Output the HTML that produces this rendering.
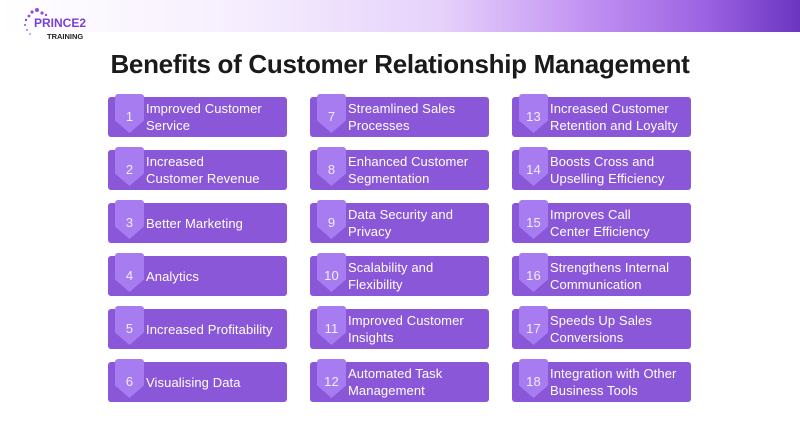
<!DOCTYPE html>
<html><head><style>
*{margin:0;padding:0;box-sizing:border-box}
body{width:800px;height:424px;background:#fff;position:relative;overflow:hidden;font-family:"Liberation Sans",sans-serif}
.band{position:absolute;left:0;top:0;width:800px;height:32px;background:linear-gradient(90deg,#fff 0%,#f6eefe 30%,#e6d2fb 55%,#c596f3 72%,#9d63e3 88%,#6a35c0 100%)}
.logo{position:absolute;left:20px;top:6px;width:75px;height:36px}
.title{position:absolute;left:0;width:800px;top:49px;text-align:center;font-size:26px;font-weight:bold;color:#1a1a1a;letter-spacing:-0.3px}
.card{position:absolute;width:179px;height:40px;background:#8b57d9;border-radius:3px;color:#fff;font-size:13px;line-height:17px;display:flex;align-items:center;padding-left:38px;letter-spacing:0.1px}
.badge{position:absolute;left:7px;top:-3px;width:29px;height:39px;background:#a67cf0;clip-path:polygon(0 0,100% 0,100% 68%,50% 100%,0 68%);border-radius:3px 3px 0 0}
.num{position:absolute;left:7px;top:0;width:29px;height:40px;line-height:40px;text-align:center;font-size:13px;color:#f3ecff}
</style></head><body>
<div class="band"></div>
<svg class="logo" viewBox="0 0 75 36">
<g fill="#8b4fe0"><circle cx="17" cy="4" r="2"/><circle cx="12" cy="6" r="1.6"/><circle cx="22" cy="7" r="1.6"/><circle cx="9" cy="10" r="1.4"/><circle cx="26" cy="9" r="1.2"/><circle cx="6" cy="14" r="1.2"/><circle cx="5" cy="19" r="1"/><circle cx="7" cy="24" r="0.9"/><circle cx="10" cy="28" r="0.8"/></g>
<text x="14" y="21" font-family="Liberation Sans" font-weight="bold" font-size="12" fill="#7a3fd6">PRINCE2</text>
<text x="27" y="33" font-family="Liberation Sans" font-weight="bold" font-size="7.5" fill="#222">TRAINING</text>
</svg>
<div class="title">Benefits of Customer Relationship Management</div>

<div class="card" style="left:108px;top:97px"><div class="badge"></div><div class="num">1</div>Improved Customer<br>Service</div>
<div class="card" style="left:108px;top:150px"><div class="badge"></div><div class="num">2</div>Increased<br>Customer Revenue</div>
<div class="card" style="left:108px;top:203px"><div class="badge"></div><div class="num">3</div>Better Marketing</div>
<div class="card" style="left:108px;top:256px"><div class="badge"></div><div class="num">4</div>Analytics</div>
<div class="card" style="left:108px;top:309px"><div class="badge"></div><div class="num">5</div>Increased Profitability</div>
<div class="card" style="left:108px;top:362px"><div class="badge"></div><div class="num">6</div>Visualising Data</div>

<div class="card" style="left:310px;top:97px"><div class="badge"></div><div class="num">7</div>Streamlined Sales<br>Processes</div>
<div class="card" style="left:310px;top:150px"><div class="badge"></div><div class="num">8</div>Enhanced Customer<br>Segmentation</div>
<div class="card" style="left:310px;top:203px"><div class="badge"></div><div class="num">9</div>Data Security and<br>Privacy</div>
<div class="card" style="left:310px;top:256px"><div class="badge"></div><div class="num">10</div>Scalability and<br>Flexibility</div>
<div class="card" style="left:310px;top:309px"><div class="badge"></div><div class="num">11</div>Improved Customer<br>Insights</div>
<div class="card" style="left:310px;top:362px"><div class="badge"></div><div class="num">12</div>Automated Task<br>Management</div>

<div class="card" style="left:512px;top:97px"><div class="badge"></div><div class="num">13</div>Increased Customer<br>Retention and Loyalty</div>
<div class="card" style="left:512px;top:150px"><div class="badge"></div><div class="num">14</div>Boosts Cross and<br>Upselling Efficiency</div>
<div class="card" style="left:512px;top:203px"><div class="badge"></div><div class="num">15</div>Improves Call<br>Center Efficiency</div>
<div class="card" style="left:512px;top:256px"><div class="badge"></div><div class="num">16</div>Strengthens Internal<br>Communication</div>
<div class="card" style="left:512px;top:309px"><div class="badge"></div><div class="num">17</div>Speeds Up Sales<br>Conversions</div>
<div class="card" style="left:512px;top:362px"><div class="badge"></div><div class="num">18</div>Integration with Other<br>Business Tools</div>
</body></html>
